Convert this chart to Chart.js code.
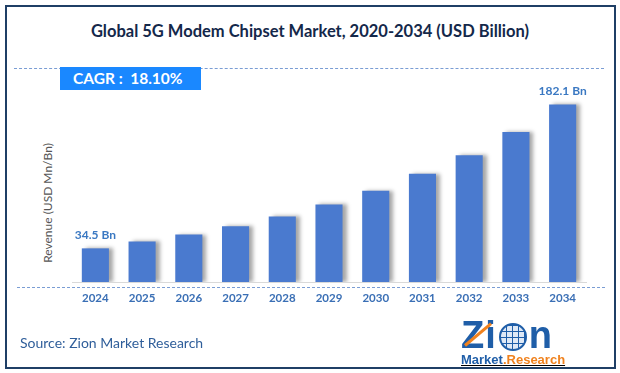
<!DOCTYPE html>
<html lang="en">
<head>
    <meta charset="UTF-8">
    <title>Global 5G Modem Chipset Market</title>
    <script src="https://cdn.jsdelivr.net/npm/chart.js@4.4.1/dist/chart.umd.min.js"></script>
    <style>
        body { margin: 0; width: 620px; height: 373px; background: #fff; font-family: Lato, sans-serif; position: relative; overflow: hidden; }
        .frame { position: absolute; left: 5px; top: 5px; width: 607px; height: 360px; border: 2px solid #1f3f66; }
        .title { position: absolute; left: 0; width: 620px; top: 21px; text-align: center; font-weight: bold; font-size: 16.5px; color: #14284a; }
        .dash { position: absolute; height: 0; border-top: 1.5px dashed #7a9dd4; }
        .cagr { position: absolute; left: 60px; top: 67px; width: 141px; height: 23px; background: #1a88ff; color: #fff; font-weight: bold; font-size: 15.5px; line-height: 23px; box-sizing: border-box; padding-left: 13px; }
        .ytitle { position: absolute; left: 47px; top: 203px; transform: translate(-50%, -50%) rotate(-90deg); font-size: 12px; color: #555; white-space: nowrap; }
        .source { position: absolute; left: 20px; top: 334px; font-size: 14px; color: #2f5e9a; }
        .logo { position: absolute; left: 461px; top: 318px; width: 118px; }
        .logo .big { position: relative; font-family: "Liberation Sans", Arial, sans-serif; font-weight: 900; font-size: 38px; line-height: 34px; color: #1f5ea8; letter-spacing: 1px; }
        .logo .globe { display: inline-block; width: 28px; height: 28px; border-radius: 50%; border: 2px solid #1f5ea8; box-sizing: border-box;
            background: repeating-linear-gradient(90deg, transparent 0 5px, #1f5ea8 5px 6px), repeating-linear-gradient(0deg, #dfe9f6 0 5px, #1f5ea8 5px 6px);
            vertical-align: -3px; margin: 0 2px; }
        .logo .arrow { position: absolute; left: 4px; top: 6px; width: 34px; height: 3px; background: #f0821e; transform: rotate(-40deg); transform-origin: left center; top: 26px; }
        .logo .sub { font-family: "Liberation Sans", Arial, sans-serif; font-weight: bold; font-size: 13px; margin-top: 0; text-decoration: underline; }
        #myChart { position: absolute; left: 0; top: 0; }
    </style>
</head>
<body>
<div class="frame"></div>
<div class="title">Global 5G Modem Chipset Market, 2020-2034 (USD Billion)</div>
<div class="dash" style="left:14px; top:68px; width:590px;"></div>
<div class="cagr">CAGR :&nbsp; 18.10%</div>
<div class="dash" style="left:17px; top:287px; width:588px;"></div>
<div class="ytitle">Revenue (USD Mn/Bn)</div>
<canvas id="myChart" width="620" height="373"></canvas>
<div class="source">Source: Zion Market Research</div>
<div class="logo">
    <div class="big">Zi<span class="globe"></span>n<div class="arrow"></div></div>
    <div class="sub"><span style="color:#1f5ea8">Market</span><span style="color:#f0821e">.Research</span></div>
</div>

<script>
    // values
    const years = ['2024', '2025', '2026', '2027', '2028', '2029', '2030', '2031', '2032', '2033', '2034'];
    const revenue = [34.5, 41.6, 48.7, 57.2, 67.3, 79.5, 93.7, 110.9, 130.1, 153.8, 182.1];
    const labelledYears = ['2024', '2034'];

    // shadow on the right side of each bar
    const barShadow = {
        id: 'barShadow',
        beforeDatasetDraw(chart) {
            const ctx = chart.ctx;
            ctx.save();
            ctx.shadowColor = 'rgba(0,0,0,0.35)';
            ctx.shadowOffsetX = 4;
            ctx.shadowOffsetY = 0;
            ctx.shadowBlur = 4;
        },
        afterDatasetDraw(chart) {
            chart.ctx.restore();
        }
    };

    // "Bn" labels over first and last bar
    const valueLabels = {
        id: 'valueLabels',
        afterDatasetsDraw(chart) {
            const ctx = chart.ctx;
            const meta = chart.getDatasetMeta(0);
            ctx.save();
            ctx.font = 'bold 12px Lato, sans-serif';
            ctx.fillStyle = '#3a78c2';
            ctx.textAlign = 'center';
            ctx.textBaseline = 'bottom';
            years.forEach(function(y, i) {
                if (labelledYears.indexOf(y) < 0) return;
                const bar = meta.data[i];
                ctx.fillText(revenue[i] + ' Bn', bar.x, bar.y - 7);
            });
            ctx.restore();
        }
    };

    const ctx = document.getElementById('myChart').getContext('2d');
    new Chart(ctx, {
        type: 'bar',
        data: {
            labels: years,
            datasets: [{
                data: revenue,
                backgroundColor: '#4a7acf',
                barPercentage: 0.58,
                categoryPercentage: 1
            }]
        },
        options: {
            responsive: false,
            animation: false,
            layout: { padding: { left: 72, right: 34, top: 87, bottom: 61 } },
            plugins: { legend: { display: false }, tooltip: { enabled: false } },
            scales: {
                x: {
                    grid: { display: false, drawTicks: false },
                    border: { display: true, color: '#d9d9d9', width: 1 },
                    ticks: { color: '#3a6fb5', font: { family: 'Lato', size: 11.5, weight: 'bold' }, padding: 9, maxRotation: 0 },
                    afterFit(scale) { scale.height = 30; }
                },
                y: {
                    display: false,
                    min: 0,
                    max: 200
                }
            }
        },
        plugins: [barShadow, valueLabels]
    });
</script>
</body>
</html>
